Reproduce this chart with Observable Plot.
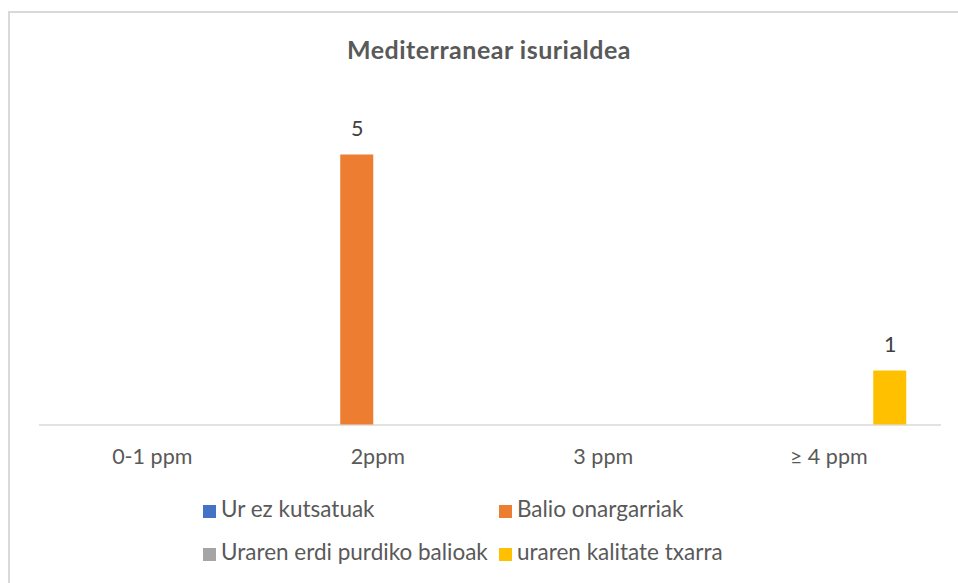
<!DOCTYPE html>
<html>
<head>
<meta charset="utf-8">
<script src="https://cdn.jsdelivr.net/npm/d3@7"></script>
<script src="https://cdn.jsdelivr.net/npm/@observablehq/plot@0.6"></script>
<style>
  html, body { margin: 0; padding: 0; background: #fff; }
  body { width: 958px; height: 583px; position: relative; overflow: hidden; font-family: Lato, sans-serif; }
  #frame { position: absolute; left: 8px; top: 11px; width: 1000px; height: 700px; border: 2px solid #d9d9d9; box-sizing: border-box; }
  #title { position: absolute; left: 0; width: 978px; top: 37px; text-align: center; font: bold 25px/25px Lato, sans-serif; letter-spacing: 0.5px; color: #595959; }
  .layer { position: absolute; left: 0; top: 0; }
  .leg { position: absolute; font: 22.5px/22.5px Lato, sans-serif; color: #595959; white-space: nowrap; }
  .sw { position: absolute; width: 13px; height: 13px; }
</style>
</head>
<body>
<div id="frame"></div>
<div id="title">Mediterranear isurialdea</div>
<div id="base" class="layer"></div>
<div id="chart" class="layer"></div>
<div id="legend"></div>
<script>
const categories = ["0-1 ppm", "2ppm", "3 ppm", "≥ 4 ppm"];
const seriesNames = ["Ur ez kutsatuak", "Balio onargarriak", "Uraren erdi purdiko balioak", "uraren kalitate txarra"];
const urEzKutsatuak = [0, 0, 0, 0];
const balioOnargarriak = [0, 5, 0, 0];
const urarenErdiPurdiko = [0, 0, 0, 0];
const kalitateTxarra = [0, 0, 0, 1];
const seriesColors = ["#4472C4", "#ED7D31", "#A5A5A5", "#FFC000"];

const seriesValues = [urEzKutsatuak, balioOnargarriak, urarenErdiPurdiko, kalitateTxarra];
const rows = [];
categories.forEach((cat, ci) => {
  seriesNames.forEach((s, si) => {
    rows.push({cat, series: s, value: seriesValues[si][ci]});
  });
});

const common = {
  width: 958, height: 583,
  marginLeft: 39, marginRight: 17, marginTop: 100.5, marginBottom: 158.5,
  y: {domain: [0, 6], axis: null}
};

const base = Plot.plot({
  ...common,
  style: {background: "transparent"},
  x: {axis: null},
  marks: [Plot.ruleY([0], {stroke: "#d9d9d9", strokeWidth: 1.5})]
});
document.getElementById("base").appendChild(base);

const chart = Plot.plot({
  ...common,
  style: {fontFamily: "Lato, sans-serif", fontSize: "21.5px", color: "#595959", background: "transparent", overflow: "visible"},
  fx: {domain: categories, paddingInner: 0.2727, paddingOuter: 0.1364, round: false, axis: "bottom", tickSize: 0, tickPadding: 23.5, label: null},
  x: {domain: seriesNames, paddingInner: 0.195, paddingOuter: 0.0976, round: false, axis: null},
  color: {domain: seriesNames, range: seriesColors},
  marks: [
    Plot.barY(rows.filter(d => d.value > 0), {fx: "cat", x: "series", y: "value", fill: "series"}),
    Plot.text(rows.filter(d => d.value > 0), {fx: "cat", x: "series", y: "value", text: d => String(d.value), lineAnchor: "middle", dy: -26, fill: "#404040", fontSize: 21.5})
  ]
});
document.getElementById("chart").appendChild(chart);

// legend (2 columns x 2 rows)
const legend = document.getElementById("legend");
const legPos = [
  {sx: 202.5, tx: 221, rowTop: 505, textTop: 497.7},
  {sx: 499, tx: 517, rowTop: 505, textTop: 497.7},
  {sx: 202.5, tx: 221, rowTop: 548, textTop: 540.7},
  {sx: 499, tx: 517, rowTop: 548, textTop: 540.7}
];
seriesNames.forEach((name, i) => {
  const p = legPos[i];
  const sw = document.createElement("div");
  sw.className = "sw";
  sw.style.left = p.sx + "px";
  sw.style.top = p.rowTop + "px";
  sw.style.background = seriesColors[i];
  legend.appendChild(sw);
  const t = document.createElement("div");
  t.className = "leg";
  t.style.left = p.tx + "px";
  t.style.top = p.textTop + "px";
  t.textContent = name;
  legend.appendChild(t);
});
</script>
</body>
</html>
